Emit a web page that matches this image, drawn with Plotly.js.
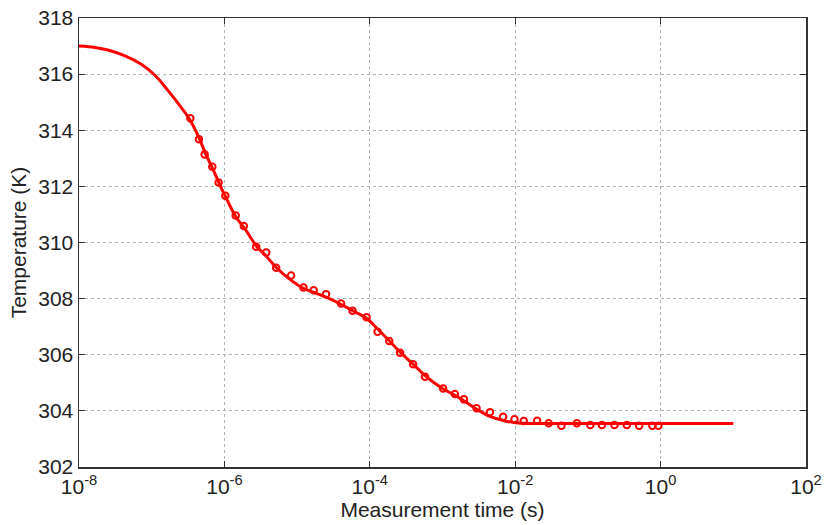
<!DOCTYPE html>
<html>
<head>
<meta charset="utf-8">
<script src="https://cdn.plot.ly/plotly-3.0.1.min.js"></script>
<style>html,body{margin:0;padding:0;background:#fff;}#chart{width:825px;height:525px;}</style>
</head>
<body>
<div id="chart"></div>
<script>
// Measured data points (time in s, temperature in K)
var measTime = [3.40e-7, 4.47e-7, 5.35e-7, 6.82e-7, 8.32e-7, 1.03e-6, 1.43e-6, 1.85e-6, 2.74e-6, 3.76e-6,
  5.15e-6, 8.28e-6, 1.22e-5, 1.69e-5, 2.50e-5, 4.02e-5, 5.79e-5, 9.02e-5, 1.28e-4, 1.85e-4,
  2.61e-4, 3.94e-4, 5.75e-4, 1.02e-3, 1.48e-3, 1.97e-3, 2.94e-3, 4.49e-3, 6.82e-3, 9.77e-3,
  1.31e-2, 2.00e-2, 2.89e-2, 4.32e-2, 7.06e-2, 0.108, 0.156, 0.232, 0.343, 0.507, 0.771, 0.933];
var measTemp = [314.43, 313.68, 313.14, 312.70, 312.14, 311.67, 310.96, 310.59, 309.85, 309.64,
  309.10, 308.82, 308.40, 308.30, 308.16, 307.83, 307.57, 307.34, 306.82, 306.49,
  306.07, 305.66, 305.22, 304.80, 304.60, 304.41, 304.09, 303.95, 303.79, 303.70,
  303.64, 303.65, 303.56, 303.47, 303.56, 303.50, 303.50, 303.50, 303.50, 303.47, 303.47, 303.47];

// Fitted curve samples
var fitTime = [1e-8, 1.66e-8, 2.5e-8, 4.3e-8, 7.2e-8, 1.1e-7, 1.66e-7, 2.57e-7, 3.4e-7, 4.5e-7, 5.5e-7, 7e-7, 8.5e-7, 1.05e-6,
  1.45e-6, 1.9e-6, 2.8e-6, 3.8e-6, 5.2e-6, 8.3e-6, 1.2e-5, 1.7e-5, 2.5e-5, 4e-5, 6e-5, 9e-5,
  1.3e-4, 1.85e-4, 2.6e-4, 4e-4, 5.8e-4, 1e-3, 1.5e-3, 2e-3, 3e-3, 4.5e-3, 7e-3, 1e-2, 2e-2, 1e-1, 10];
var fitTemp = [317.0, 316.95, 316.86, 316.65, 316.35, 315.97, 315.43, 314.8, 314.35, 313.72, 313.17, 312.6, 312.1, 311.6,
  310.9, 310.5, 309.85, 309.5, 309.1, 308.65, 308.38, 308.22, 308.05, 307.8, 307.55, 307.3,
  306.9, 306.5, 306.1, 305.65, 305.25, 304.8, 304.55, 304.35, 304.05, 303.8, 303.65, 303.58, 303.55, 303.55, 303.55];

var xTickVals = [1e-8, 1e-6, 1e-4, 1e-2, 1e0, 1e2];
var xTickText = ['10<sup>-8</sup>', '10<sup>-6</sup>', '10<sup>-4</sup>', '10<sup>-2</sup>', '10<sup>0</sup>', '10<sup>2</sup>'];

var traces = [
  {x: fitTime, y: fitTemp, mode: 'lines', type: 'scatter', line: {color: '#ff0000', width: 3, shape: 'spline', smoothing: 1}, hoverinfo: 'skip'},
  {x: measTime, y: measTemp, mode: 'markers', type: 'scatter', marker: {symbol: 'circle-open', color: '#ff0000', size: 6.5, line: {width: 2, color: '#ff0000'}}}
];

var axisCommon = {
  showline: true, linecolor: '#333', linewidth: 1.5, mirror: 'ticks',
  ticks: 'inside', ticklen: 6, tickcolor: '#333', tickwidth: 1.2,
  showgrid: true, gridcolor: '#b0b0b0', griddash: 'dot', gridwidth: 1,
  zeroline: false,
  tickfont: {family: 'Liberation Sans, Arial, sans-serif', size: 21, color: '#222'}
};

var layout = {
  width: 825, height: 525,
  margin: {l: 79, r: 19, t: 18, b: 58},
  paper_bgcolor: '#fff', plot_bgcolor: '#fff',
  showlegend: false,
  font: {family: 'Liberation Sans, Arial, sans-serif', color: '#222'},
  xaxis: Object.assign({}, axisCommon, {
    type: 'log', range: [-8, 2], tickvals: xTickVals, ticktext: xTickText,
    title: {text: 'Measurement time (s)', font: {size: 21, color: '#222'}, standoff: 0}
  }),
  yaxis: Object.assign({}, axisCommon, {
    range: [302, 318], dtick: 2, tick0: 302,
    title: {text: 'Temperature (K)', font: {size: 21, color: '#222'}, standoff: 6}
  })
};

Plotly.newPlot('chart', traces, layout, {displayModeBar: false, staticPlot: true});
</script>
</body>
</html>
